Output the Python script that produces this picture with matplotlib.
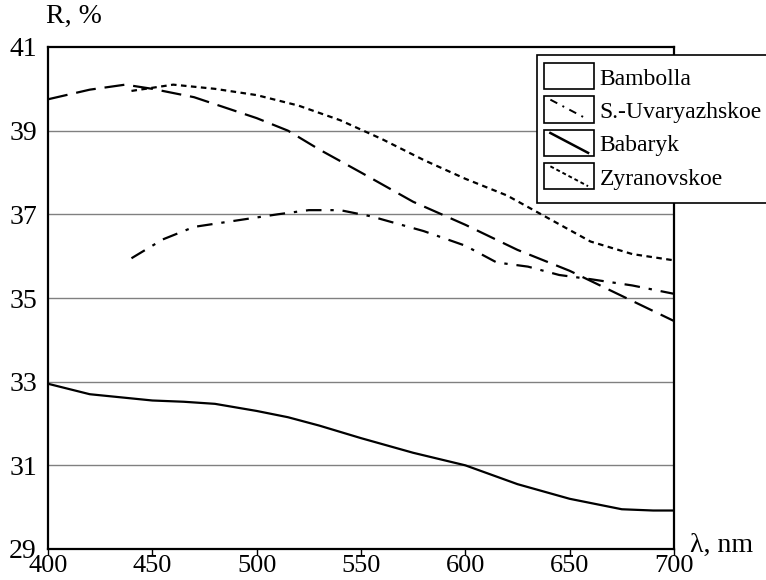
import matplotlib
matplotlib.use("Agg")
import matplotlib.pyplot as plt
from matplotlib.lines import Line2D
from matplotlib.patches import Rectangle
from matplotlib.legend_handler import HandlerBase

plt.rcParams['font.family'] = ['Liberation Serif', 'DejaVu Serif']

# Data (wavelength nm, reflectance %)
bambolla_x = [400, 420, 450, 465, 480, 500, 515, 530, 550, 575, 600, 625, 650, 675, 690, 700]
bambolla_y = [32.95, 32.7, 32.55, 32.52, 32.47, 32.3, 32.15, 31.95, 31.65, 31.3, 31.0, 30.55, 30.2, 29.95, 29.92, 29.92]

babaryk_x = [400, 420, 437, 450, 470, 485, 500, 515, 530, 550, 575, 600, 625, 650, 675, 700]
babaryk_y = [39.75, 39.98, 40.1, 40.0, 39.8, 39.55, 39.3, 39.0, 38.55, 38.0, 37.3, 36.75, 36.15, 35.65, 35.05, 34.45]

zyr_x = [440, 460, 480, 500, 520, 540, 560, 580, 600, 620, 640, 660, 680, 700]
zyr_y = [39.95, 40.1, 40.0, 39.85, 39.6, 39.25, 38.8, 38.3, 37.85, 37.45, 36.9, 36.35, 36.05, 35.9]

uv_x = [440, 455, 470, 490, 510, 525, 540, 555, 580, 600, 615, 630, 645, 660, 680, 700]
uv_y = [35.95, 36.4, 36.7, 36.85, 37.0, 37.1, 37.1, 36.95, 36.6, 36.25, 35.85, 35.75, 35.55, 35.45, 35.3, 35.1]

legend_labels = ["Bambolla", "S.-Uvaryazhskoe", "Babaryk", "Zyranovskoe"]
x_ticks = [400, 450, 500, 550, 600, 650, 700]
y_ticks = [29, 31, 33, 35, 37, 39, 41]

fig = plt.figure(figsize=(7.66, 5.8), dpi=100)
ax = fig.add_axes([48/766, 1-549/580, (674-48)/766, (549-47)/580])

for y in y_ticks[1:-1]:
    ax.axhline(y, color='#808080', lw=1.0, zorder=1)

ax.plot(bambolla_x, bambolla_y, color='black', lw=1.6, zorder=3)
ax.plot(babaryk_x, babaryk_y, color='black', lw=1.6, dashes=(9, 4), zorder=3)
ax.plot(zyr_x, zyr_y, color='black', lw=1.6, dashes=(2.5, 2), zorder=3)
ax.plot(uv_x, uv_y, color='black', lw=1.6, dashes=(7, 4, 1.5, 4), zorder=3)

ax.set_xlim(400, 700)
ax.set_ylim(29, 41)
ax.set_xticks(x_ticks)
ax.set_yticks(y_ticks)
ax.tick_params(axis='x', direction='out', length=4, width=1, labelsize=19, pad=0.5)
ax.tick_params(axis='y', direction='out', length=0, labelsize=20, pad=8)
for s in ax.spines.values():
    s.set_linewidth(1.6)

fig.text(46/766, 1-16/580, "R, %", fontsize=20, ha='left', va='center')
fig.text(690/766, 1-545/580, "λ, nm", fontsize=20, ha='left', va='center')


class BoxedHandler(HandlerBase):
    def create_artists(self, legend, orig_handle, xdescent, ydescent, width, height, fontsize, trans):
        x0, y0 = -xdescent - 4.0, -ydescent
        rect = Rectangle((x0, y0 - 0.3*height), width, 1.6*height,
                         fill=False, edgecolor='black', lw=1.2, transform=trans)
        line = Line2D([x0 + 0.12*width, x0 + 0.88*width],
                      [y0 + 1.1*height, y0 - 0.1*height])
        self.update_prop(line, orig_handle, legend)
        line.set_transform(trans)
        return [rect, line]


handles = [
    Line2D([], [], color='none'),
    Line2D([], [], color='black', lw=1.4, dashes=(4, 3, 1, 3)),
    Line2D([], [], color='black', lw=1.8),
    Line2D([], [], color='black', lw=1.4, dashes=(2, 1.5)),
]
leg = fig.legend(handles, legend_labels, loc='upper left',
                 bbox_to_anchor=(537/766, 1-55/580), fontsize=17,
                 handler_map={Line2D: BoxedHandler()}, handlelength=2.1,
                 handleheight=0.7, labelspacing=0.5, handletextpad=0.0,
                 borderpad=0.55, borderaxespad=0, frameon=True, fancybox=False,
                 framealpha=1, edgecolor='black')
leg.get_frame().set_linewidth(1.2)

fig.savefig("out.png", dpi=100)
